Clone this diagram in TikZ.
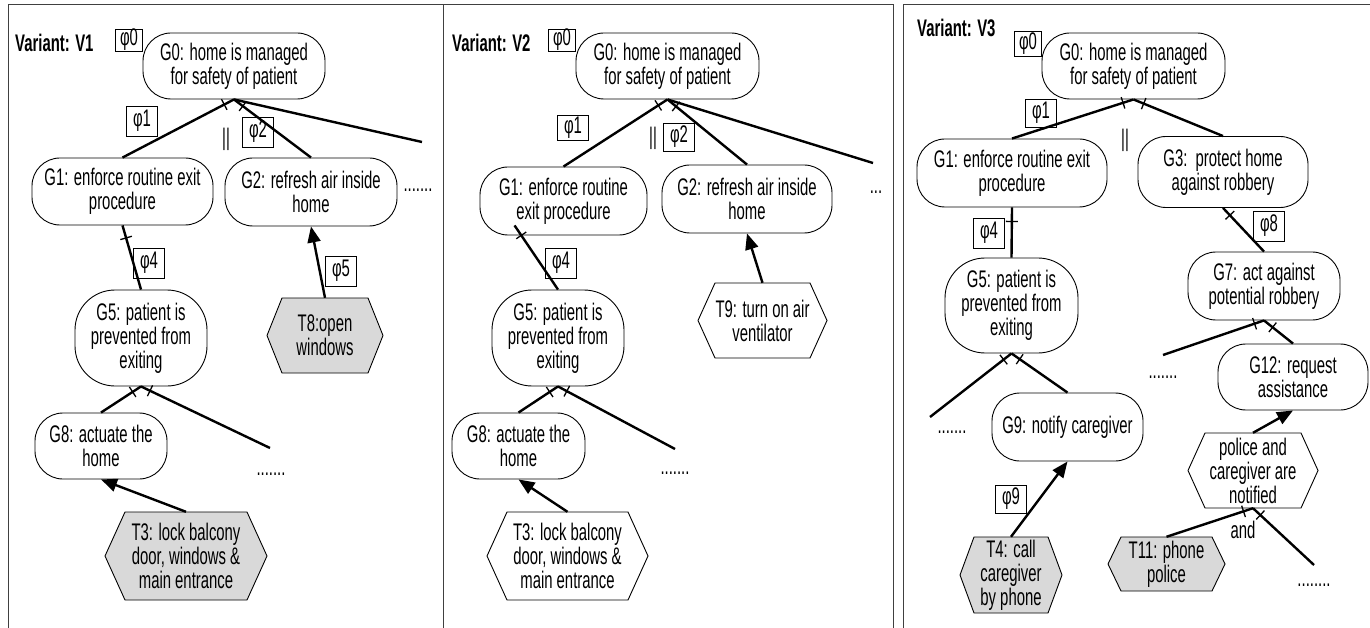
\documentclass[tikz,border=0pt]{standalone}
\usepackage{fontspec}
\setmainfont[FakeStretch=0.62]{Liberation Sans}
\usetikzlibrary{arrows.meta,decorations.markings,calc}

\tikzset{
  txt/.style={font=\fontsize{24}{24}\selectfont, align=center, inner sep=0pt},
  vlabel/.style={txt, font=\fontsize{24}{24}\selectfont\bfseries, anchor=west},
  goal/.style={txt, draw, line width=0.9pt, rounded corners=28pt, fill=white},
  phibox/.style={txt, draw, line width=0.8pt, minimum width=31pt, minimum height=30pt},
  phizero/.style={phibox, minimum width=27pt, minimum height=22pt},
  hexline/.style={line width=0.9pt},
  frame/.style={line width=1pt, draw=black!75},
  conn/.style={line width=2.4pt},
  arr/.style={conn, -{Triangle[length=16pt,width=13pt]}},
  tickmark/.style={postaction={decorate, decoration={markings,
      mark=at position #1 with {\draw[line width=1.3pt] (0,-6pt) -- (0,6pt);}}}}
}

% hexagonal task node: name, x, y, half width, half height, inset, fill, text
\newcommand\hexbox[8]{%
  \filldraw[hexline, fill=#7] (#2-#4,#3) -- (#2-#4+#6,#3-#5) -- (#2+#4-#6,#3-#5)
     -- (#2+#4,#3) -- (#2+#4-#6,#3+#5) -- (#2-#4+#6,#3+#5) -- cycle;
  \node[txt, minimum width={2*#4}, minimum height={2*#5}] (#1) at (#2,#3) {#8};
}

\begin{document}
\begin{tikzpicture}[x=1pt, y=-1pt]
\useasboundingbox (0,0) rectangle (1370,628);
\fill[white] (0,0) rectangle (1370,628);
\clip (0,0) rectangle (1370,628);

% panel frames
\draw[frame] (8,700) -- (8,5) -- (443,5) -- (443,700);
\draw[frame] (443,5) -- (893,5) -- (893,700);
\draw[frame] (903,700) -- (903,5) -- (1380,5);

%%%%%%%%%%%%%%%%%%%% Variant V1
\node[vlabel] (avar) at (15,43) {Variant: V1};
\node[phizero] (aphi0) at (129,40) {φ0};
\node[goal, minimum width=182, minimum height=66] (a0) at (234,66) {G0: home is managed\\for safety of patient};
\node[goal, minimum width=181, minimum height=67] (a1) at (122.5,191.5) {G1: enforce routine exit\\procedure};
\node[goal, minimum width=172, minimum height=68] (a2) at (311,192) {G2: refresh air inside\\home};
\node[goal, rounded corners=40pt, minimum width=132, minimum height=96] (a5) at (141,338) {G5: patient is\\prevented from\\exiting};
\node[goal, minimum width=132, minimum height=66] (a8) at (101,446) {G8: actuate the\\home};
\hexbox{a8t}{325}{335.5}{58}{37.5}{15}{black!15}{T8:open\\windows}
\hexbox{a3t}{186}{556}{81}{44}{20}{black!15}{T3: lock balcony\\door, windows \&\\main entrance}
\coordinate (ae0) at (422,142);
\coordinate (ae5) at (270,448);

\node[phibox] (aphi1) at (142,121) {φ1};
\node[phibox] (aphi2) at (258,132) {φ2};
\node[phibox] (aphi4) at (149,263) {φ4};
\node[phibox] (aphi5) at (341,271) {φ5};
\node[txt] (apar) at (226,139) {||};
\node[txt] (adots1) at (418,190) {.......};
\node[txt] (adots2) at (271,474) {.......};

\draw[conn, tickmark=11pt] (a0.south) -- (a1.north);
\draw[conn, tickmark=11pt] (a0.south) -- (a2.north);
\draw[conn] (a0.south) -- (ae0);
\draw[conn, tickmark=13pt] (a1.south) -- (a5.north);
\draw[conn, tickmark=10pt] (a5.south) -- (a8.north);
\draw[conn, tickmark=10pt] (a5.south) -- (ae5);
\draw[arr] (a8t.north) -- (a2.south);
\draw[arr] (a3t.north) -- (a8.south);

%%%%%%%%%%%%%%%%%%%% Variant V2
\node[vlabel] (bvar) at (452,43) {Variant: V2};
\node[phizero] (bphi0) at (562,40) {φ0};
\node[goal, minimum width=183, minimum height=66] (b0) at (667.5,66) {G0: home is managed\\for safety of patient};
\node[goal, minimum width=167, minimum height=68] (b1) at (563.5,201) {G1: enforce routine\\exit procedure};
\node[goal, minimum width=170, minimum height=68] (b2) at (747,199) {G2: refresh air inside\\home};
\node[goal, rounded corners=40pt, minimum width=132, minimum height=96] (b5) at (558,338) {G5: patient is\\prevented from\\exiting};
\node[goal, minimum width=133, minimum height=66] (b8) at (518.5,446) {G8: actuate the\\home};
\hexbox{b9t}{762.5}{320.5}{64.5}{37.5}{17}{white}{T9: turn on air\\ventilator}
\hexbox{b3t}{567.5}{556}{80.5}{44}{20}{white}{T3: lock balcony\\door, windows \&\\main entrance}
\coordinate (be0) at (873,163);
\coordinate (be5) at (675,449);
\coordinate (b1c) at ([shift={(35,-10)}]b1.south west);

\node[phibox, minimum height=25] (bphi1) at (573,128) {φ1};
\node[phibox, minimum height=28] (bphi2) at (679,137) {φ2};
\node[phibox] (bphi4) at (561,263) {φ4};
\node[txt] (bpar) at (653,138) {||};
\node[txt] (bdots1) at (876,192) {...};
\node[txt] (bdots2) at (675,473) {.......};

\draw[conn, tickmark=11pt] (b0.south) -- (b1.north);
\draw[conn, tickmark=11pt] (b0.south) -- (b2.north);
\draw[conn] (b0.south) -- (be0);
\draw[conn, tickmark=12pt] (b1c) -- (b5.north);
\draw[conn, tickmark=10pt] (b5.south) -- (b8.north);
\draw[conn, tickmark=10pt] (b5.south) -- (be5);
\draw[arr] (b9t.north) -- (b2.south);
\draw[arr] (b3t.north) -- (b8.south);

%%%%%%%%%%%%%%%%%%%% Variant V3
\node[vlabel] (cvar) at (917,28) {Variant: V3};
\node[phizero, minimum height=25] (cphi0) at (1028,44) {φ0};
\node[goal, minimum width=183, minimum height=66] (c0) at (1133.5,66) {G0: home is managed\\for safety of patient};
\node[goal, minimum width=190, minimum height=68] (c1) at (1012,173) {G1: enforce routine exit\\procedure};
\node[goal, minimum width=170, minimum height=71] (c3) at (1223,172) {G3:\ \ protect home\\against robbery};
\node[goal, rounded corners=40pt, minimum width=133, minimum height=95] (c5) at (1011.5,305.5) {G5: patient is\\prevented from\\exiting};
\node[goal, minimum width=151, minimum height=68] (c9) at (1067.5,427) {G9: notify caregiver};
\node[goal, minimum width=152, minimum height=68] (c7) at (1264,286) {G7: act against\\potential robbery};
\node[goal, minimum width=150, minimum height=66] (c12) at (1293,377) {G12: request\\assistance};
\hexbox{cpn}{1253}{470.5}{65}{37.5}{17}{white}{police and\\caregiver are\\notified}
\hexbox{c4t}{1011}{575}{51}{38}{14}{black!15}{T4: call\\caregiver\\by phone}
\hexbox{c11t}{1166.5}{564}{58.5}{27}{13}{black!15}{T11: phone\\police}
\coordinate (ce5) at (930,417);
\coordinate (ce7) at (1163,355);
\coordinate (cen) at (1314,565);

\node[phibox, minimum height=28] (cphi1) at (1041,113) {φ1};
\node[phibox] (cphi4) at (989,233) {φ4};
\node[phibox] (cphi8) at (1269,226) {φ8};
\node[phibox, minimum height=28] (cphi9) at (1011,499) {φ9};
\node[txt] (cpar) at (1125,140) {||};
\node[txt] (cdots1) at (952,432) {.......};
\node[txt] (cdots2) at (1163,377) {.......};
\node[txt] (cdots3) at (1314,585) {........};
\node[txt] (cand) at (1243,530) {and};

\draw[conn, tickmark=11pt] (c0.south) -- (c1.north);
\draw[conn, tickmark=11pt] (c0.south) -- (c3.north);
\draw[conn, tickmark=14pt] (c1.south) -- (c5.north);
\draw[conn, tickmark=10pt] (c3.south) -- (c7.north);
\draw[conn, tickmark=10pt] (c5.south) -- (ce5);
\draw[conn, tickmark=10pt] (c5.south) -- (c9.north);
\draw[conn, tickmark=10pt] (c7.south) -- (ce7);
\draw[conn, tickmark=11pt] (c7.south) -- (c12.north);
\draw[conn, tickmark=10pt] (cpn.south) -- (c11t.north);
\draw[conn, tickmark=10pt] (cpn.south) -- (cen);
\draw[arr] (c4t.north) -- (c9.south);
\draw[arr] (cpn.north) -- (c12.south);
\end{tikzpicture}
\end{document}
